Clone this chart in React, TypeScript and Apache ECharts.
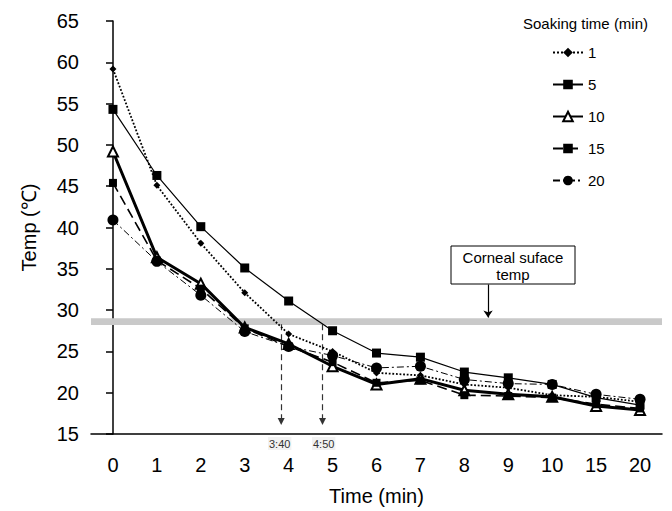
import React, { useEffect, useRef } from "react";
import * as echarts from "echarts";

const categories = ["0", "1", "2", "3", "4", "5", "6", "7", "8", "9", "10", "15", "20"];
const soak1 = [59.2, 45.1, 38.1, 32.1, 27.1, 25.0, 22.4, 22.1, 21.0, 20.6, 19.7, 19.5, 18.9];
const soak5 = [54.3, 46.3, 40.1, 35.1, 31.1, 27.5, 24.8, 24.3, 22.5, 21.8, 21.0, 19.4, 18.5];
const soak10 = [49.2, 36.4, 33.2, 27.9, 25.9, 23.2, 21.0, 21.7, 20.3, 19.8, 19.5, 18.4, 17.9];
const soak15 = [45.4, 36.0, 32.6, 27.8, 25.6, 23.7, 21.2, 21.5, 19.7, 19.6, 19.4, 18.6, 18.1];
const soak20 = [40.9, 35.9, 31.8, 27.4, 25.6, 24.5, 23.0, 23.2, 21.6, 21.1, 21.0, 19.8, 19.2];
const yTicks = { min: 15, max: 65, interval: 5 };
const cornealBand = [28.2, 29.0];
const crossTimes = [3.83, 4.77];
const crossLabels = ["3:40", "4:50"];
const arrowTop = 28.3;
const arrowBottom = 16.5;
const boxArrowX = 8.54;
const boxArrowFrom = 33.1;
const boxArrowTo = 29.1;

const FONT = "'Liberation Sans', Arial, sans-serif";

export default function App() {
  const ref = useRef<HTMLDivElement>(null);
  useEffect(() => {
    if (!ref.current) return;
    const chart = echarts.init(ref.current, undefined, { renderer: "svg" });
    const common = { type: "line", xAxisIndex: 0, yAxisIndex: 0, z: 5 };
    chart.setOption({
      animation: false,
      textStyle: { fontFamily: FONT },
      grid: { left: 91, right: 10, top: 21, bottom: 77 },
      legend: {
        orient: "vertical",
        left: 547,
        top: 40,
        itemWidth: 30,
        itemHeight: 12,
        itemGap: 17,
        textStyle: { fontSize: 15, color: "#000", fontFamily: FONT },
        data: ["1", "5", "10", "15", "20"],
      },
      xAxis: [
        {
          type: "category",
          data: categories,
          boundaryGap: true,
          axisLine: { lineStyle: { color: "#000", width: 1.5 } },
          axisTick: { length: 7, lineStyle: { color: "#000", width: 1.5 } },
          axisLabel: { fontSize: 20, color: "#000", margin: 21, fontFamily: FONT },
          name: "Time (min)",
          nameLocation: "middle",
          nameGap: 52,
          nameTextStyle: { fontSize: 20, color: "#000", fontFamily: FONT },
          splitLine: { show: false },
        },
        {
          type: "value",
          min: -0.5,
          max: 12.5,
          show: false,
        },
      ],
      yAxis: {
        type: "value",
        min: yTicks.min,
        max: yTicks.max,
        interval: yTicks.interval,
        axisLine: { show: true, lineStyle: { color: "#000", width: 1.5 } },
        axisTick: { show: true, length: 7, lineStyle: { color: "#000", width: 1.5 } },
        axisLabel: { fontSize: 20, color: "#000", margin: 12, fontFamily: FONT },
        splitLine: { show: false },
        name: "Temp (\u2103)",
        nameLocation: "middle",
        nameRotate: 90,
        nameGap: 52,
        nameTextStyle: { fontSize: 20, color: "#000", fontFamily: FONT },
      },
      series: [
        {
          ...common,
          name: "1",
          data: soak1,
          symbol: "diamond",
          symbolSize: 7,
          lineStyle: { color: "#000", width: 1.8, type: "dotted" },
          itemStyle: { color: "#000" },
          markArea: {
            silent: true,
            itemStyle: { color: "#c9c9c9" },
            data: [[{ yAxis: cornealBand[0] }, { yAxis: cornealBand[1] }]],
            z: 1,
          },
        },
        {
          ...common,
          name: "5",
          data: soak5,
          symbol: "rect",
          symbolSize: 9,
          lineStyle: { color: "#000", width: 1.2, type: "solid" },
          itemStyle: { color: "#000" },
        },
        {
          ...common,
          name: "10",
          data: soak10,
          symbol: "triangle",
          symbolSize: 10,
          lineStyle: { color: "#000", width: 3, type: "solid" },
          itemStyle: { color: "#fff", borderColor: "#000", borderWidth: 2 },
        },
        {
          ...common,
          name: "15",
          data: soak15,
          symbol: "rect",
          symbolSize: 8,
          lineStyle: { color: "#000", width: 1.6, type: [10, 5] },
          itemStyle: { color: "#000" },
        },
        {
          ...common,
          name: "20",
          data: soak20,
          symbol: "circle",
          symbolSize: 11,
          lineStyle: { color: "#000", width: 1, type: [7, 3, 2, 3] },
          itemStyle: { color: "#000" },
        },
        {
          type: "lines",
          coordinateSystem: "cartesian2d",
          xAxisIndex: 1,
          yAxisIndex: 0,
          silent: true,
          symbol: ["none", "triangle"],
          symbolSize: 7,
          lineStyle: { color: "#333", width: 1.2, type: [6, 4], opacity: 1 },
          data: crossTimes.map((t) => ({ coords: [[t, arrowTop], [t, arrowBottom]] })),
        },
        {
          type: "lines",
          coordinateSystem: "cartesian2d",
          xAxisIndex: 1,
          yAxisIndex: 0,
          silent: true,
          symbol: ["none", "arrow"],
          symbolSize: 7,
          lineStyle: { color: "#000", width: 1.2, type: "solid", opacity: 1 },
          data: [{ coords: [[boxArrowX, boxArrowFrom], [boxArrowX, boxArrowTo]] }],
        },
      ],
      graphic: [
        {
          type: "text",
          left: 523,
          top: 16,
          style: { text: "Soaking time (min)", fill: "#000", font: `15px ${FONT}` },
        },
        {
          type: "rect",
          shape: { x: 451, y: 246, width: 124, height: 38 },
          style: { fill: "#fff", stroke: "#000", lineWidth: 1 },
        },
        {
          type: "text",
          x: 513,
          y: 249,
          style: {
            text: "Corneal suface\ntemp",
            font: `15px ${FONT}`,
            fill: "#000",
            align: "center",
            lineHeight: 17,
          },
        },
        ...crossLabels.map((t, i) => ({
          type: "text",
          x: [268, 312][i],
          y: 437,
          style: {
            text: t,
            font: `11px ${FONT}`,
            fill: "#333",
            backgroundColor: "#f2f2f2",
            padding: [1, 1],
          },
        })),
      ],
    });
    return () => chart.dispose();
  }, []);
  return <div ref={ref} style={{ width: 672, height: 511, position: "absolute", left: 0, top: 0 }} />;
}
